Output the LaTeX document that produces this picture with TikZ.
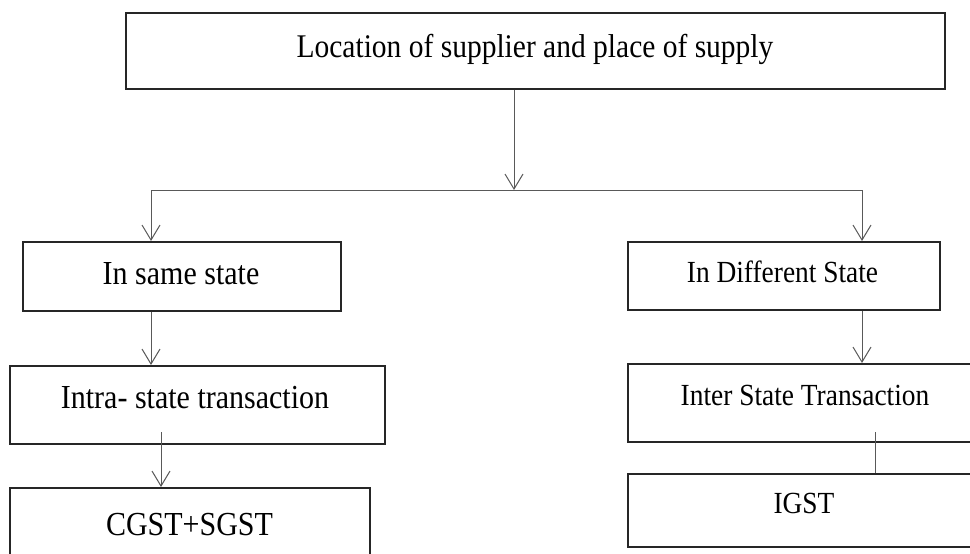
\documentclass[tikz,border=0pt]{standalone}
\usepackage{fontspec}
\setmainfont{Liberation Serif}
\usetikzlibrary{arrows.meta}

\tikzset{
  box/.style={draw=black!85, line width=1.5pt, fill=white, rectangle, inner sep=0pt},
  lbl/.style={anchor=base, inner sep=0pt, font=\fontsize{30}{36}\selectfont},
  lblsmall/.style={lbl, font=\fontsize{27.4}{33}\selectfont},
  lbltop/.style={lbl, font=\fontsize{29.5}{35}\selectfont},
  link/.style={draw=black!65, line width=1pt},
  arr/.style={link, -{Straight Barb[length=15pt, width=18pt, line width=1pt]}},
}
\newcommand{\talltext}[1]{\scalebox{1}[1.12]{#1}}

\begin{document}
\begin{tikzpicture}[x=1pt, y=-1pt]
  \useasboundingbox (0,0) rectangle (970,554);
  \clip (0,0) rectangle (970,554);

  % boxes (corner to corner)
  \node[box, minimum width=819pt, minimum height=76pt, anchor=north west] (top) at (125,12) {};
  \node[box, minimum width=318pt, minimum height=69pt, anchor=north west] (same) at (22,241) {};
  \node[box, minimum width=375pt, minimum height=78pt, anchor=north west] (intra) at (9,365) {};
  \node[box, minimum width=360pt, minimum height=90pt, anchor=north west] (cgst) at (9,487) {};
  \node[box, minimum width=312pt, minimum height=68pt, anchor=north west] (diff) at (627,241) {};
  \node[box, minimum width=356pt, minimum height=78pt, anchor=north west] (inter) at (627,363) {};
  \node[box, minimum width=354pt, minimum height=73pt, anchor=north west] (igst) at (627,473) {};

  % labels, placed on their baselines
  \node[lbltop]   (ttop)   at (535,57)    {\talltext{Location of supplier and place of supply}};
  \node[lbl]      (tsame)  at (181,284)   {\talltext{In same state}};
  \node[lbl]      (tintra) at (195,408)   {\talltext{Intra- state transaction}};
  \node[lbl]      (tcgst)  at (189.5,535) {\talltext{CGST+SGST}};
  \node[lblsmall] (tdiff)  at (782.5,282) {\talltext{In Different State}};
  \node[lblsmall] (tinter) at (805,405)   {\talltext{Inter State Transaction}};
  \node[lblsmall] (tigst)  at (804,513)   {\talltext{IGST}};

  % branching point and connector ends
  \coordinate (split) at (514,190);
  \coordinate (splitL) at (151,190);
  \coordinate (splitR) at (862,190);
  \coordinate (intraOut) at (161,432);
  \coordinate (interOut) at (875,432);

  % connectors
  \draw[arr] (top.south -| split) -- (split);
  \draw[link] (splitL) -- (splitR);
  \draw[arr] (splitL) -- (splitL |- same.north);
  \draw[arr] (splitR) -- (splitR |- diff.north);
  \draw[arr] (same.south -| splitL) -- (splitL |- intra.north);
  \draw[arr] (diff.south -| splitR) -- (splitR |- inter.north);
  \draw[arr] (intraOut) -- (intraOut |- cgst.north);
  \draw[link] (interOut) -- (interOut |- igst.north);
\end{tikzpicture}
\end{document}
